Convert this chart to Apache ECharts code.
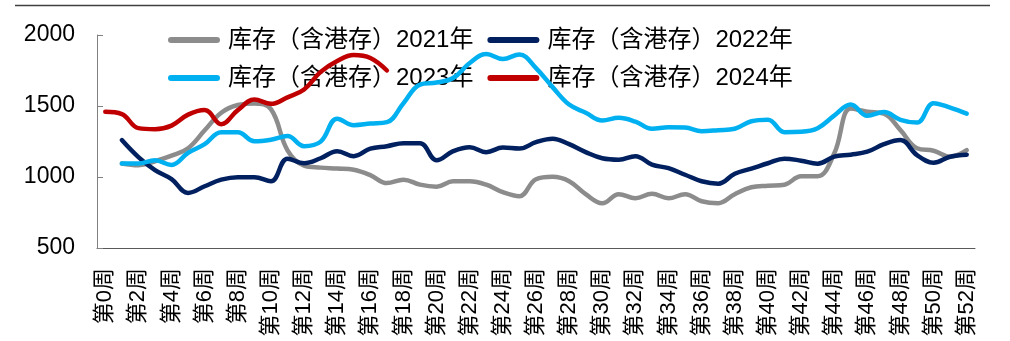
<!DOCTYPE html>
<html>
<head>
<meta charset="utf-8">
<script src="https://cdn.jsdelivr.net/npm/echarts@6/dist/echarts.min.js"></script>
<style>
  html, body { margin: 0; padding: 0; background: #fff; }
  #chart { width: 1010px; height: 341px; }
</style>
</head>
<body>
<div id="chart"></div>
<script>
// Week categories on the x axis
const weeks = ['第0周','第1周','第2周','第3周','第4周','第5周','第6周','第7周','第8周','第9周',
  '第10周','第11周','第12周','第13周','第14周','第15周','第16周','第17周','第18周','第19周',
  '第20周','第21周','第22周','第23周','第24周','第25周','第26周','第27周','第28周','第29周',
  '第30周','第31周','第32周','第33周','第34周','第35周','第36周','第37周','第38周','第39周',
  '第40周','第41周','第42周','第43周','第44周','第45周','第46周','第47周','第48周','第49周',
  '第50周','第51周','第52周'];

// Inventory incl. port stocks, by year (week 0 .. week 52)
const inv2021 = [null,1095,1083,1111,1150,1203,1329,1453,1507,1518,1478,1188,1080,1066,1060,1051,1013,957,981,946,
  932,970,970,946,893,865,984,1001,970,879,815,879,850,882,850,879,829,815,879,928,
  939,946,1005,1005,1165,1482,1460,1446,1330,1203,1185,1143,1189];
const inv2022 = [null,1260,1140,1048,985,888,935,981,999,999,970,1129,1097,1132,1182,1147,1200,1217,1238,1238,
  1118,1182,1210,1175,1207,1200,1245,1270,1231,1175,1132,1122,1147,1087,1062,1016,970,953,1023,1059,
  1097,1129,1115,1094,1143,1157,1178,1231,1260,1154,1101,1143,1157];
const inv2023 = [null,1095,1095,1118,1085,1170,1231,1315,1315,1252,1263,1288,1217,1249,1411,1365,1376,1386,1520,1651,
  1665,1697,1803,1866,1831,1863,1767,1633,1510,1453,1398,1417,1390,1340,1351,1348,1323,1330,1340,1393,
  1404,1316,1319,1344,1432,1510,1431,1457,1403,1383,1520,1489,1446];
const inv2024 = [1459,1443,1344,1337,1362,1439,1471,1372,1471,1545,1515,1561,1616,1740,1817,1859,1838,1750];

const seriesNames = ['库存（含港存）2021年','库存（含港存）2022年','库存（含港存）2023年','库存（含港存）2024年'];
const seriesColors = ['#8c8c8c','#002060','#00b0f0','#c00000'];
const seriesData = [inv2021, inv2022, inv2023, inv2024];

// Y axis range and step
const yMin = 500, yMax = 2000, yStep = 500;

const latin = '"Liberation Sans", Arial, "Noto Sans CJK SC", sans-serif';

const chart = echarts.init(document.getElementById('chart'), null, { renderer: 'canvas' });

chart.setOption({
  animation: false,
  backgroundColor: '#ffffff',
  graphic: [{
    type: 'line',
    shape: { x1: 15, y1: 5.5, x2: 990, y2: 5.5 },
    style: { stroke: '#404040', lineWidth: 1.5 }
  }],
  legend: {
    left: 168,
    top: 28,
    width: 640,
    padding: 0,
    z: 1,
    itemGap: 14,
    itemWidth: 52,
    itemHeight: 6,
    icon: 'path://M3,0 L49,0 A3,3 0 0 1 49,6 L3,6 A3,3 0 0 1 3,0 Z',
    textStyle: {
      fontFamily: latin,
      fontSize: 24,
      color: '#000',
      lineHeight: 17,
      padding: [0, 0, 0, 3]
    },
    data: seriesNames
  },
  grid: { left: 97, right: 35, top: 35, bottom: 93 },
  xAxis: {
    type: 'category',
    data: weeks,
    boundaryGap: true,
    axisLine: { lineStyle: { color: '#595959', width: 1 } },
    axisTick: { inside: true, length: 5, interval: 0, lineStyle: { color: '#595959' } },
    axisLabel: {
      interval: 1,
      rotate: 90,
      margin: 20,
      fontFamily: latin,
      fontSize: 22,
      color: '#000'
    },
    splitLine: { show: false }
  },
  yAxis: {
    type: 'value',
    min: yMin,
    max: yMax,
    interval: yStep,
    axisLine: { show: true, lineStyle: { color: '#808080', width: 1 } },
    axisTick: { show: true, inside: true, length: 6, lineStyle: { color: '#808080' } },
    axisLabel: {
      margin: 22,
      fontFamily: latin,
      fontSize: 23,
      color: '#000',
      formatter: (v) => String(v)
    },
    splitLine: { show: false }
  },
  series: seriesData.map((d, i) => ({
    name: seriesNames[i],
    type: 'line',
    z: 10 + i,
    data: d,
    smooth: 0.4,
    showSymbol: false,
    symbol: 'none',
    color: seriesColors[i],
    lineStyle: { width: 4.5, color: seriesColors[i], cap: 'round', join: 'round' }
  }))
});
</script>
</body>
</html>
